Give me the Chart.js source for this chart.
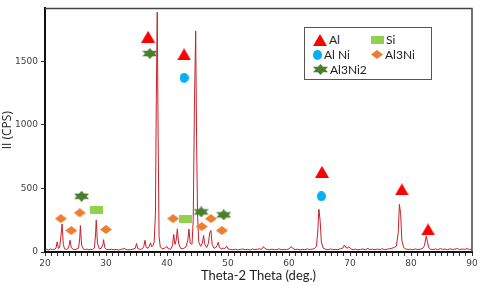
<!DOCTYPE html>
<html>
<head>
<meta charset="utf-8">
<script src="https://cdn.jsdelivr.net/npm/chart.js@4"></script>
<style>
  body { margin: 0; background: #fff; }
  #wrap { position: relative; width: 480px; height: 286px; }
  #legend {
    position: absolute; left: 304px; top: 27px; width: 126px; height: 51px;
    border: 1px solid #555; background: #fff; font-family: Lato, sans-serif;
    font-size: 12px; color: #222;
  }
  .item { position: absolute; display: flex; align-items: center; gap: 2px; }
</style>
</head>
<body>
<div id="wrap">
  <canvas id="xrd"></canvas>
  <div id="legend"></div>
</div>
<script>
// Spectrum (2theta in deg., intensity in CPS)
const theta = [
  20.0, 20.3, 20.6, 20.9, 21.2, 21.5, 21.8, 22.0, 22.2, 22.4, 22.6, 22.8, 23.0, 23.2, 23.5, 23.8,
  24.0, 24.1, 24.3, 24.6, 24.9, 25.2, 25.5, 25.7, 25.8, 26.0, 26.3, 26.6, 26.9, 27.2, 27.5, 27.8,
  28.1, 28.3, 28.4, 28.6, 28.9, 29.2, 29.5, 29.6, 29.8, 30.1, 30.5, 30.9, 31.3, 31.7, 32.1, 32.5,
  32.9, 33.0, 33.2, 33.6, 34.0, 34.4, 34.8, 35.0, 35.2, 35.6, 36.0, 36.2, 36.4, 36.6, 36.9, 37.1,
  37.3, 37.5, 37.7, 37.9, 38.1, 38.25, 38.4, 38.55, 38.7, 38.9, 39.2, 39.6, 39.8, 40.0, 40.2, 40.6,
  40.9, 41.1, 41.3, 41.5, 41.7, 41.9, 42.2, 42.5, 42.8, 43.1, 43.4, 43.6, 43.8, 44.1, 44.3, 44.5,
  44.7, 44.85, 45.0, 45.2, 45.5, 45.8, 46.0, 46.2, 46.5, 46.8, 47.0, 47.2, 47.4, 47.7, 48.0, 48.2,
  48.4, 48.6, 48.9, 49.2, 49.5, 49.8, 50.0, 50.4, 50.8, 51.2, 51.6, 52.0, 52.4, 52.8, 53.2, 53.6,
  54.0, 54.4, 54.8, 55.2, 55.5, 55.8, 56.0, 56.4, 56.8, 57.2, 57.6, 58.0, 58.4, 58.8, 59.2, 59.6,
  60.0, 60.4, 60.6, 61.0, 61.4, 61.8, 62.2, 62.6, 63.0, 63.4, 63.8, 64.2, 64.5, 64.7, 64.9, 65.1,
  65.3, 65.6, 66.0, 66.4, 66.8, 67.2, 67.6, 68.0, 68.4, 68.8, 69.1, 69.3, 69.6, 69.8, 70.1, 70.5,
  70.9, 71.3, 71.7, 72.1, 72.5, 72.9, 73.3, 73.7, 74.1, 74.5, 74.9, 75.3, 75.7, 76.1, 76.5, 76.9,
  77.2, 77.6, 77.9, 78.1, 78.3, 78.5, 78.8, 79.1, 79.5, 79.9, 80.3, 80.7, 81.1, 81.5, 81.9, 82.2,
  82.5, 82.7, 82.9, 83.2, 83.6, 84.0, 84.4, 84.8, 85.2, 85.6, 86.0, 86.4, 86.8, 87.2, 87.6, 88.0,
  88.4, 88.8, 89.2, 89.6, 90.0
];
const cps = [
  18, 22, 16, 24, 19, 21, 30, 80, 28, 35, 120, 220, 60, 25, 20, 28,
  60, 92, 35, 22, 18, 24, 30, 110, 208, 55, 22, 19, 23, 17, 22, 20,
  30, 150, 250, 70, 25, 28, 60, 97, 35, 20, 18, 22, 17, 20, 16, 21,
  25, 32, 20, 17, 19, 22, 30, 67, 28, 20, 26, 45, 92, 35, 30, 45,
  72, 40, 50, 80, 300, 1200, 1885, 900, 120, 40, 25, 30, 38, 42, 25, 22,
  50, 138, 60, 90, 182, 70, 30, 25, 30, 40, 90, 180, 70, 60, 250, 1150,
  1738, 900, 300, 80, 45, 70, 130, 60, 35, 70, 150, 169, 60, 30, 35, 50,
  77, 35, 25, 30, 28, 46, 25, 20, 18, 22, 17, 20, 24, 18, 21, 16,
  23, 19, 22, 25, 20, 42, 30, 20, 17, 22, 18, 20, 24, 18, 21, 19,
  25, 42, 28, 19, 22, 17, 21, 18, 24, 20, 22, 28, 45, 150, 336, 250,
  80, 30, 22, 18, 24, 19, 21, 18, 25, 30, 55, 35, 30, 42, 25, 19,
  22, 17, 20, 24, 18, 27, 19, 22, 18, 23, 20, 25, 19, 22, 26, 30,
  35, 45, 150, 374, 300, 90, 35, 25, 20, 22, 18, 24, 19, 22, 28, 50,
  126, 80, 35, 22, 18, 24, 19, 27, 20, 23, 18, 25, 20, 22, 27, 19,
  23, 21, 26, 20, 22
];

// Phase markers
const alX = [36.9, 42.8, 65.4, 78.5, 82.8];
const alY = [1692, 1554, 630, 492, 177];
const siX = [28.5, 43.1];
const siY = [331, 262];
const alNiX = [42.8, 65.3];
const alNiY = [1369, 438];
const al3NiX = [22.6, 24.3, 25.7, 30.0, 41.0, 45.7, 47.2, 49.0];
const al3NiY = [262, 169, 308, 177, 262, 200, 262, 169];
const al3Ni2X = [37.2, 26.0, 45.6, 49.3];
const al3Ni2Y = [1560, 438, 315, 292];

const xTicks = [20, 30, 40, 50, 60, 70, 80, 90];
const yTicks = [0, 500, 1000, 1500];

function icon(kind, w, h, color) {
  const c = document.createElement("canvas");
  c.width = w;
  c.height = h;
  const g = c.getContext("2d");
  g.fillStyle = color;
  g.beginPath();
  if (kind === "triangle") {
    g.moveTo(w / 2, 0); g.lineTo(w, h); g.lineTo(0, h);
  } else if (kind === "ellipse") {
    g.ellipse(w / 2, h / 2, w / 2, h / 2, 0, 0, Math.PI * 2);
  } else if (kind === "rect") {
    g.rect(0, 0, w, h);
  } else if (kind === "diamond") {
    g.moveTo(w / 2, 0); g.lineTo(w, h / 2); g.lineTo(w / 2, h); g.lineTo(0, h / 2);
  } else if (kind === "star") {
    g.moveTo(w / 2, 0); g.lineTo(w, h * 0.75); g.lineTo(0, h * 0.75); g.closePath();
    g.moveTo(0, h * 0.25); g.lineTo(w, h * 0.25); g.lineTo(w / 2, h); g.closePath();
  }
  g.closePath();
  g.fill();
  return c;
}

const phases = [
  { label: "Al", xs: alX, ys: alY, kind: "triangle", w: 14, h: 12, color: "#ff0000" },
  { label: "Si", xs: siX, ys: siY, kind: "rect", w: 13, h: 8, color: "#92d050" },
  { label: "Al Ni", xs: alNiX, ys: alNiY, kind: "ellipse", w: 9, h: 10, color: "#00b0f0" },
  { label: "Al3Ni", xs: al3NiX, ys: al3NiY, kind: "diamond", w: 12, h: 9, color: "#ed7d31" },
  { label: "Al3Ni2", xs: al3Ni2X, ys: al3Ni2Y, kind: "star", w: 15, h: 11, color: "#4a7d2c" },
];

const markerSets = phases.map((p) => ({
  type: "scatter",
  data: p.xs.map((x, i) => ({ x: x, y: p.ys[i] })),
  pointStyle: icon(p.kind, p.w, p.h, p.color),
  pointRadius: 6,
  pointHoverRadius: 6,
  order: 0,
}));

// Legend (2 columns, 3 rows)
const legendPos = [[8, 4], [66, 4], [8, 19], [66, 19], [8, 34]];
const legend = document.getElementById("legend");
phases.forEach((p, i) => {
  const item = document.createElement("div");
  item.className = "item";
  item.style.left = legendPos[i][0] + "px";
  item.style.top = legendPos[i][1] + "px";
  item.appendChild(icon(p.kind, p.w, p.h, p.color));
  const t = document.createElement("span");
  t.textContent = p.label;
  item.appendChild(t);
  legend.appendChild(item);
});

// Frame on top and right of plot
const framePlugin = {
  id: "frame",
  afterDraw(chart) {
    const { ctx, chartArea: a } = chart;
    ctx.save();
    ctx.strokeStyle = "#444";
    ctx.lineWidth = 1.5;
    ctx.beginPath();
    ctx.moveTo(a.left, a.top);
    ctx.lineTo(a.right, a.top);
    ctx.lineTo(a.right, a.bottom);
    ctx.stroke();
    ctx.restore();
  },
};

new Chart(document.getElementById("xrd"), {
  data: {
    datasets: [
      {
        type: "line",
        data: theta.map((x, i) => ({ x: x, y: cps[i] })),
        borderColor: "#c8202c",
        borderWidth: 1,
        pointRadius: 0,
        tension: 0,
        order: 1,
      },
      ...markerSets,
    ],
  },
  options: {
    animation: false,
    responsive: true,
    maintainAspectRatio: false,
    layout: { padding: { top: 3, right: 8 } },
    plugins: { legend: { display: false }, tooltip: { enabled: false } },
    scales: {
      x: {
        type: "linear",
        min: 20,
        max: 90,
        afterFit: (s) => { s.height = 34; },
        ticks: {
          stepSize: 1,
          autoSkip: false,
          maxRotation: 0,
          padding: 2,
          color: "#404040",
          font: { family: "DejaVu Sans", size: 9 },
          callback: (v) => (xTicks.includes(v) ? String(v) : ""),
        },
        grid: {
          drawOnChartArea: false,
          tickLength: 4,
          tickColor: "#333",
        },
        border: { color: "#111", width: 2 },
        title: {
          display: true,
          text: "Theta-2 Theta (deg.)",
          color: "#222",
          font: { family: "Lato", size: 13 },
          padding: { top: 0, bottom: 2 },
        },
      },
      y: {
        min: 0,
        max: 1915,
        afterFit: (s) => { s.width = 45; },
        afterBuildTicks: (s) => {
          s.ticks = yTicks.map((v) => ({ value: v }));
        },
        ticks: {
          padding: 3,
          color: "#404040",
          font: { family: "DejaVu Sans", size: 9 },
          callback: (v) => String(v),
        },
        grid: {
          drawOnChartArea: false,
          tickLength: 4,
          tickColor: "#333",
        },
        border: { color: "#111", width: 2 },
        title: {
          display: true,
          text: "II (CPS)",
          color: "#222",
          font: { family: "Open Sans", size: 12 },
          padding: { top: 0, bottom: 0 },
        },
      },
    },
  },
  plugins: [framePlugin],
});
</script>
</body>
</html>
